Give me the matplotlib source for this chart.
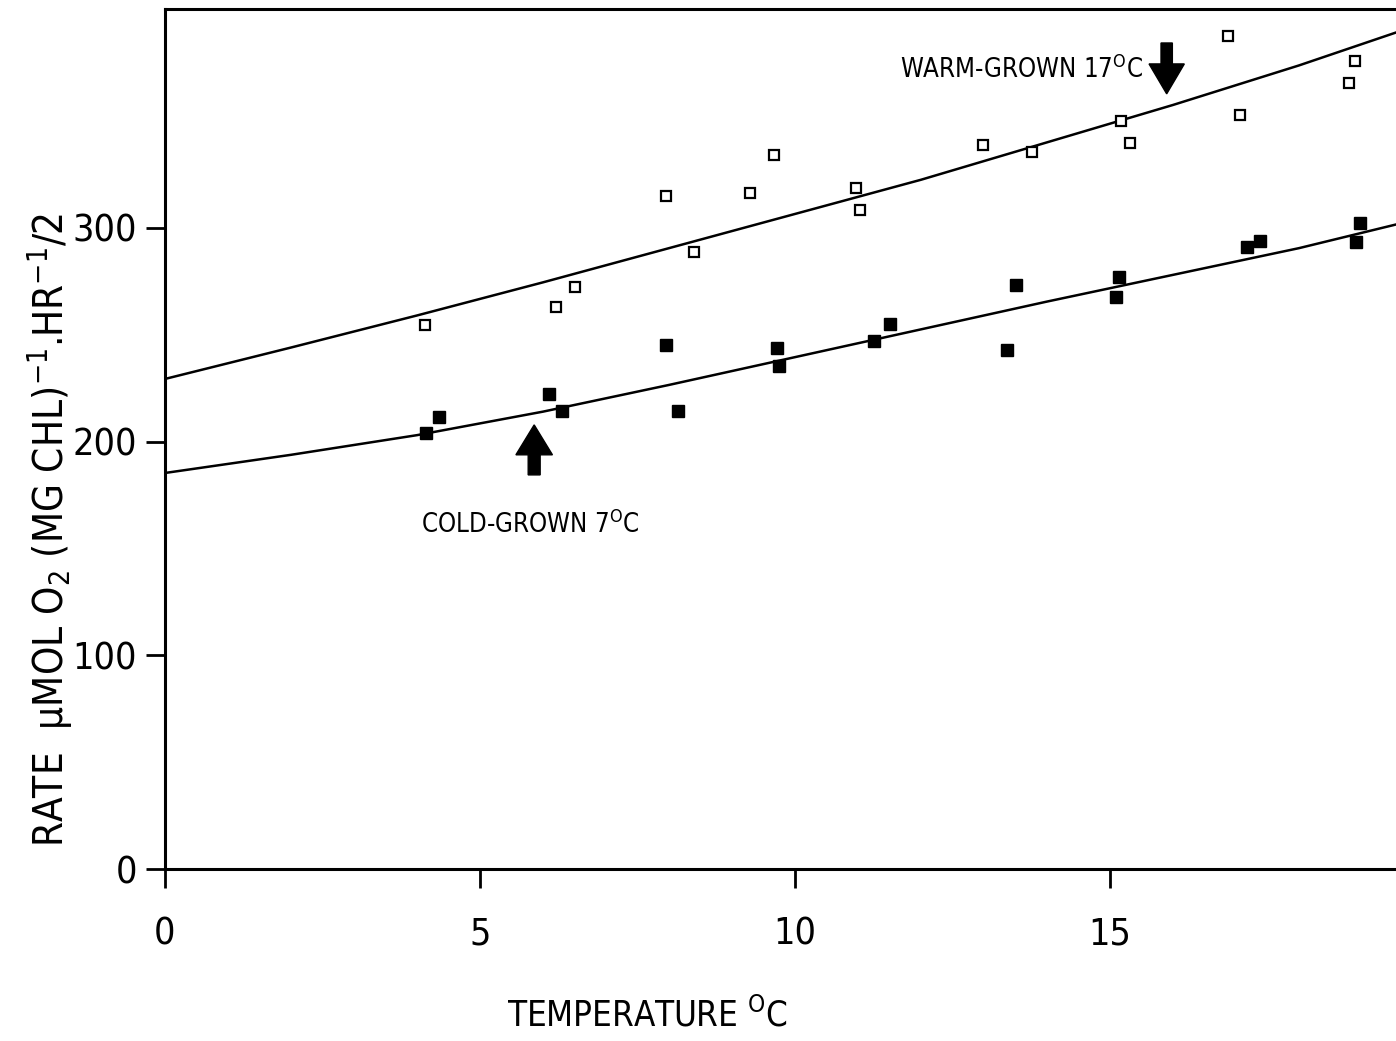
import matplotlib
matplotlib.use("Agg")
import matplotlib.pyplot as plt

plt.rcParams['font.family'] = ['DejaVu Sans']
plt.rcParams['font.stretch'] = 'condensed'
plt.rcParams['mathtext.fontset'] = 'custom'
plt.rcParams['mathtext.rm'] = 'DejaVu Sans:stretch=condensed'
plt.rcParams['mathtext.it'] = 'DejaVu Sans:stretch=condensed'
plt.rcParams['mathtext.bf'] = 'DejaVu Sans:stretch=condensed'

# ---- data ----
warm_temp = [4.13, 6.20, 6.51, 7.95, 8.39, 9.29, 9.66, 10.97, 11.03, 12.99,
             13.76, 15.17, 15.32, 16.87, 17.06, 18.79, 18.89]
warm_rate = [254.6, 263.0, 272.5, 315.1, 288.7, 316.5, 334.1, 318.5, 308.4, 338.8,
             335.7, 350.2, 339.9, 389.8, 352.8, 367.9, 378.2]

cold_temp = [4.14, 4.35, 6.10, 6.30, 7.96, 8.15, 9.71, 9.75, 11.25, 11.51,
             13.36, 13.51, 15.09, 15.14, 17.17, 17.38, 18.91, 18.97]
cold_rate = [203.9, 211.7, 222.3, 214.5, 245.2, 214.5, 243.7, 235.4, 247.2, 255.0,
             242.9, 273.3, 267.8, 276.9, 291.2, 293.9, 293.3, 302.4]

curve_temp = [0, 2, 4, 6, 8, 10, 12, 14, 16, 18, 19.6]
warm_fit = [229.3, 244.0, 259.0, 274.5, 290.5, 306.5, 322.5, 340.0, 357.5, 376.0, 392.0]
cold_fit = [185.3, 193.8, 203.0, 214.0, 226.5, 239.5, 252.5, 265.5, 278.0, 290.5, 302.0]

x_ticks = [0, 5, 10, 15]
y_ticks = [0, 100, 200, 300]

warm_label = 'WARM-GROWN 17$^{\\mathrm{O}}$C'
cold_label = 'COLD-GROWN 7$^{\\mathrm{O}}$C'
warm_arrow_temp = 15.90
cold_arrow_temp = 5.86

W, H = 1396, 1041
fig = plt.figure(figsize=(W / 100, H / 100), dpi=100)
ax = fig.add_axes([165 / W, 1 - 869 / H, 1 - 165 / W, (869 - 9) / H])

ax.plot(curve_temp, warm_fit, color='black', lw=1.8, zorder=2)
ax.plot(curve_temp, cold_fit, color='black', lw=1.8, zorder=2)
ax.plot(warm_temp, warm_rate, 's', ms=7.5, mfc='white', mec='black', mew=1.6,
        ls='none', zorder=3)
ax.plot(cold_temp, cold_rate, 's', ms=8.5, mfc='black', mec='black', mew=1.0,
        ls='none', zorder=3)

# arrows
ax.arrow(warm_arrow_temp, 386.5, 0, 362.7 - 386.5, width=0.18, head_width=0.56,
         head_length=14, length_includes_head=True, fc='black', ec='black', zorder=4)
ax.arrow(cold_arrow_temp, 184.4, 0, 207.8 - 184.4, width=0.19, head_width=0.58,
         head_length=14, length_includes_head=True, fc='black', ec='black', zorder=4)

ax.text(11.67, 370.1, warm_label, fontsize=18.5, ha='left', va='baseline')
ax.text(4.06, 157.2, cold_label, fontsize=18.5, ha='left', va='baseline')

ax.set_xlim(0, 19.54)
ax.set_ylim(0, 402.4)
ax.set_xticks(x_ticks)
ax.set_yticks(y_ticks)
ax.set_xticklabels([str(v) for v in x_ticks], fontsize=27)
ax.set_yticklabels([str(v) for v in y_ticks], fontsize=27)
ax.tick_params(axis='both', direction='out', length=14, width=2.0)
ax.tick_params(axis='y', pad=6)
ax.tick_params(axis='x', pad=20)

for s in ['left', 'bottom', 'top']:
    ax.spines[s].set_linewidth(2.2)
ax.spines['right'].set_visible(False)

fig.text(50 / W, 1 - 530 / H,
         'RATE  µMOL O$_2$ (MG CHL)$^{-1}$.HR$^{-1}$/2',
         rotation=90, ha='center', va='center', fontsize=29)
fig.text(647 / W, 1 - 1015 / H, 'TEMPERATURE $^{\\mathrm{O}}$C',
         ha='center', va='center', fontsize=25)

fig.savefig('out.png', dpi=100)
